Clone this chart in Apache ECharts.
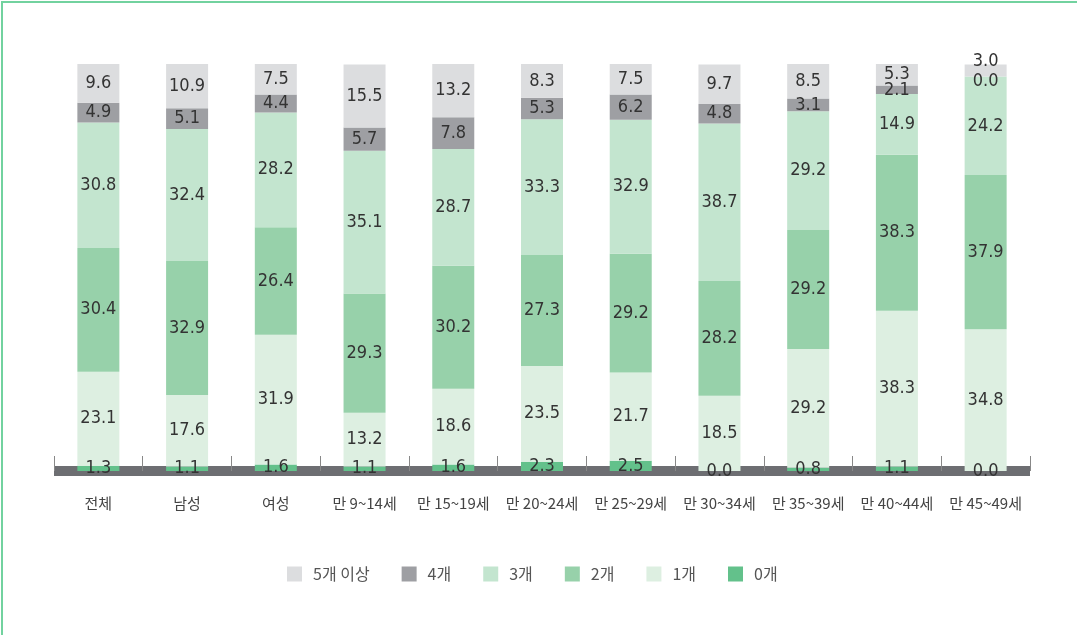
<!DOCTYPE html>
<html>
<head>
<meta charset="utf-8">
<script src="https://cdn.jsdelivr.net/npm/echarts@6/dist/echarts.min.js"></script>
<style>
html,body{margin:0;padding:0;background:#fff;overflow:hidden;}
#frame{position:absolute;left:1px;top:1px;width:1200px;height:800px;border-left:2px solid #72d29f;border-top:2px solid #72d29f;}
#main{position:absolute;left:0;top:0;width:1077px;height:635px;}
</style>
</head>
<body>
<div id="frame"></div>
<div id="main"></div>
<script>
const categories = ['전체','남성','여성','만 9~14세','만 15~19세','만 20~24세','만 25~29세','만 30~34세','만 35~39세','만 40~44세','만 45~49세'];
const seriesNames = ['0개','1개','2개','3개','4개','5개 이상'];
const v0 = [1.3,1.1,1.6,1.1,1.6,2.3,2.5,0.0,0.8,1.1,0.0];
const v1 = [23.1,17.6,31.9,13.2,18.6,23.5,21.7,18.5,29.2,38.3,34.8];
const v2 = [30.4,32.9,26.4,29.3,30.2,27.3,29.2,28.2,29.2,38.3,37.9];
const v3 = [30.8,32.4,28.2,35.1,28.7,33.3,32.9,38.7,29.2,14.9,24.2];
const v4 = [4.9,5.1,4.4,5.7,7.8,5.3,6.2,4.8,3.1,2.1,0.0];
const v5 = [9.6,10.9,7.5,15.5,13.2,8.3,7.5,9.7,8.5,5.3,3.0];
const values = [v0,v1,v2,v3,v4,v5];
const colors = ['#63c18b','#ddefe1','#97d1aa','#c3e5cf','#9e9fa3','#dcdddf'];
const legendOrder = ['5개 이상','4개','3개','2개','1개','0개'];

const numFont = "'DejaVu Sans Condensed','DejaVu Sans',sans-serif";
const krFont = "'Noto Sans CJK KR',sans-serif";

// label nudges for the crowded top of the last bar (series index -> [category index, dy])
const labelNudge = {5: [10, -9], 4: [10, 5]};

const chart = echarts.init(document.getElementById('main'));
const series = values.map((vals, si) => ({
  name: seriesNames[si],
  type: 'bar',
  stack: 'total',
  barWidth: 42,
  z: 4,
  itemStyle: {color: colors[si]},
  label: {
    show: true,
    position: 'inside',
    color: '#333',
    fontFamily: numFont,
    fontSize: 18,
    formatter: p => Number(p.value).toFixed(1)
  },
  data: vals.map((v, ci) => {
    const n = labelNudge[si];
    if (n && n[0] === ci) return {value: v, label: {offset: [0, n[1]]}};
    return v;
  })
}));

chart.setOption({
  animation: false,
  color: colors,
  grid: {left: 54, right: 47, top: 64, bottom: 164, containLabel: false},
  legend: {
    data: legendOrder,
    left: 287,
    top: 566,
    padding: 0,
    icon: 'rect',
    itemWidth: 15,
    itemHeight: 15,
    itemGap: 32,
    textStyle: {color: '#555', fontSize: 16, fontFamily: krFont, padding: [0,0,0,6]}
  },
  xAxis: {
    type: 'category',
    data: categories,
    offset: 5,
    z: 3,
    axisLine: {lineStyle: {color: '#6d6e72', width: 10, cap: 'butt'}},
    axisTick: {show: true, inside: true, length: 15, lineStyle: {color: '#888', width: 1}},
    axisLabel: {color: '#444', fontSize: 15, fontFamily: krFont, margin: 20, interval: 0}
  },
  yAxis: {
    type: 'value',
    min: 0,
    max: 100,
    show: false,
    splitLine: {show: false}
  },
  series: series
});
</script>
</body>
</html>
